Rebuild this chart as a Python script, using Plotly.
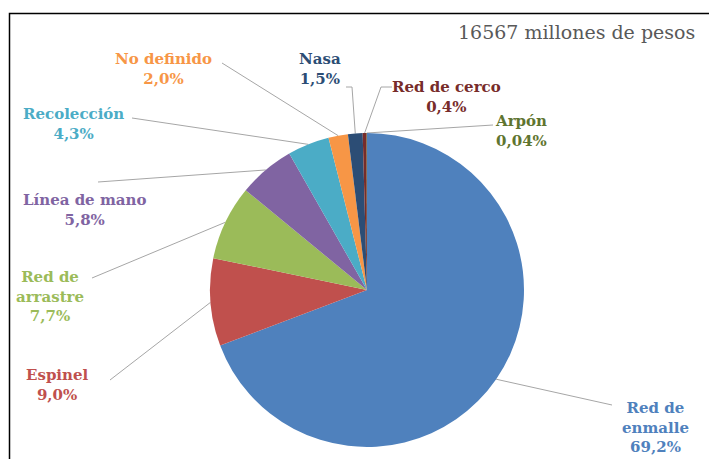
import math
import plotly.graph_objects as go

W, H = 709, 459

# ---- data ----
labels = ["Red de enmalle", "Espinel", "Red de arrastre", "Línea de mano", "Recolección",
          "No definido", "Nasa", "Red de cerco", "Arpón"]
display = ["Red de<br>enmalle<br>69,2%", "Espinel<br>9,0%", "Red de<br>arrastre<br>7,7%",
           "Línea de mano<br>5,8%", "Recolección<br>4,3%", "No definido<br>2,0%",
           "Nasa<br>1,5%", "Red de cerco<br>0,4%", "Arpón<br>0,04%"]
values = [69.2, 9.0, 7.7, 5.8, 4.3, 2.0, 1.5, 0.4, 0.04]
colors = ["#4F81BD", "#C0504D", "#9BBB59", "#8064A2", "#4BACC6",
          "#F79646", "#2C4D75", "#772C2A", "#5F7530"]
title_text = "16567 millones de pesos"

# ---- layout (pixels) ----
cx, cy, R = 367, 290, 157
label_pos = [(655, 427), (57, 385), (50, 296), (84, 210), (73, 124),
             (163, 69), (320, 69), (446, 97), (521, 131)]
line_start = [[(612, 405)], [(110, 380)], [(92, 278)], [(98, 182)], [(132, 118)],
              [(222, 63)], [(346, 87), (352, 87)], [(392, 87), (381, 87)], [(493, 125)]]

SERIF = "DejaVu Serif"

fig = go.Figure()
fig.add_trace(go.Pie(
    labels=labels, values=values, sort=False, direction="clockwise", rotation=0,
    marker=dict(colors=colors, line=dict(width=0)), textinfo="none", hoverinfo="label+percent",
    showlegend=False,
    domain=dict(x=[(cx - R) / W, (cx + R) / W], y=[1 - (cy + R) / H, 1 - (cy - R) / H]),
))

total = sum(values)
cum = 0.0
xs, ys = [], []
for i, v in enumerate(values):
    mid = (cum + v / 2) / total
    cum += v
    ang = 2 * math.pi * mid
    px = cx + R * math.sin(ang)
    py = cy - R * math.cos(ang)
    pts = line_start[i] + [(px, py)]
    for (a, b) in pts:
        xs.append(a); ys.append(b)
    xs.append(None); ys.append(None)
    fig.add_annotation(x=label_pos[i][0], y=label_pos[i][1], xref="x", yref="y",
                       text=display[i], showarrow=False,
                       font=dict(family=SERIF, size=15, color=colors[i], weight="bold"),
                       align="center", xanchor="center", yanchor="middle")

fig.add_trace(go.Scatter(x=xs, y=ys, mode="lines", line=dict(color="#A6A6A6", width=1),
                         hoverinfo="skip", showlegend=False))

fig.add_annotation(x=697, y=32, xref="x", yref="y", text=title_text, showarrow=False,
                   font=dict(family=SERIF, size=19, color="#595959"),
                   xanchor="right", yanchor="middle")

fig.add_shape(type="rect", x0=9.5, y0=13.5, x1=720, y1=470, xref="x", yref="y",
              line=dict(color="black", width=1.5), layer="above")

fig.update_layout(
    width=W, height=H, margin=dict(l=0, r=0, t=0, b=0),
    paper_bgcolor="white", plot_bgcolor="rgba(0,0,0,0)",
    xaxis=dict(range=[0, W], visible=False, fixedrange=True),
    yaxis=dict(range=[H, 0], visible=False, fixedrange=True),
)

fig.write_html("out.html")
